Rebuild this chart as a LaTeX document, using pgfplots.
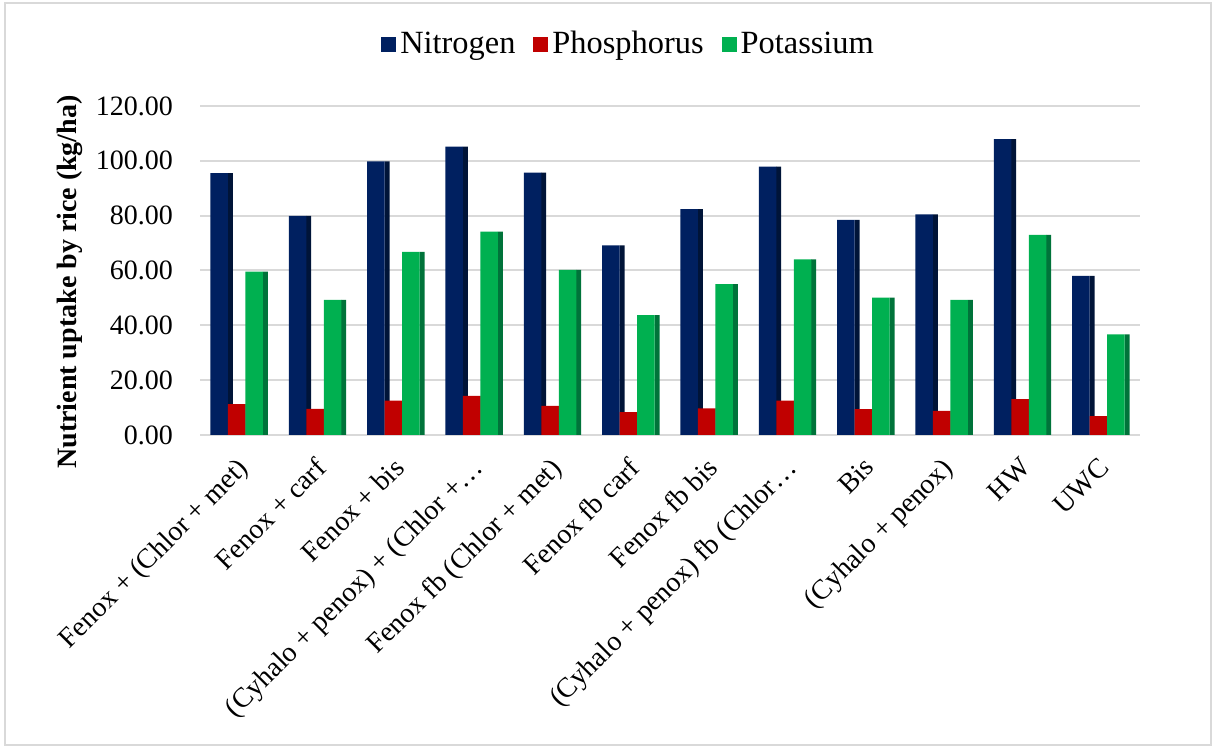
\documentclass[border=0pt]{standalone}
\usepackage{fontspec}
\setmainfont{Liberation Serif}
\usepackage{pgfplots}
\pgfplotsset{compat=1.18}
\definecolor{cN}{HTML}{002060}
\definecolor{cP}{HTML}{C00000}
\definecolor{cK}{HTML}{00B050}
\definecolor{sN}{HTML}{001438}
\definecolor{sP}{HTML}{850000}
\definecolor{sK}{HTML}{00733A}
\definecolor{gridc}{HTML}{D9D9D9}
\newcommand{\cf}{\fontsize{14}{16}\selectfont}
\newcommand{\lf}{\fontsize{16.2}{18}\selectfont}
\begin{document}
\begin{tikzpicture}
\path[use as bounding box] (0,0) rectangle (608pt,374pt);
\draw[gridc, line width=0.8pt] (2.5pt,1.5pt) rectangle (605.5pt,372.5pt);
\begin{axis}[
  at={(100pt,156.5pt)}, anchor=south west,
  scale only axis, width=470pt, height=164.5pt,
  xmin=-0.5, xmax=11.5, ymin=0, ymax=120,
  ytick={0,20,40,60,80,100,120},
  xtick={0,...,11},
  xticklabels={Fenox + (Chlor + met), Fenox + carf, Fenox + bis, (Cyhalo + penox) + (Chlor +…, Fenox fb (Chlor + met), Fenox fb carf, Fenox fb bis, (Cyhalo + penox) fb (Chlor…, Bis, (Cyhalo + penox), HW, UWC},
  xticklabel style={rotate=45, anchor=north east, inner sep=0pt, xshift=-8.5pt, yshift=-6pt, font=\cf},
  yticklabel style={font=\cf, xshift=-10pt},
  yticklabel={\pgfmathprintnumber[fixed, fixed zerofill, precision=2]{\tick}},
  /pgf/number format/assume math mode=true,
  major tick length=0pt,
  axis line style={draw=none},
  ymajorgrids, grid style={gridc, line width=1pt},
  ylabel={\bfseries Nutrient uptake by rice (kg/ha)},
  ylabel style={font=\cf, at={(axis description cs:-0.138,0.465)}, anchor=center},
  ybar, bar width=8.75pt,
  legend style={at={(0.457,1.188)}, anchor=center, draw=none, fill=none, font=\lf, legend columns=-1,
    /tikz/every even column/.append style={column sep=7pt}},
  legend image code/.code={\fill[#1] (0pt,-3.75pt) rectangle (7.5pt,3.75pt);},
]
% side faces
\addplot[fill=sN, draw=none, bar width=2.5pt, bar shift=-4.4pt, forget plot] coordinates {(0,95.5) (1,79.9) (2,99.8) (3,105.2) (4,95.7) (5,69.2) (6,82.4) (7,97.9) (8,78.5) (9,80.5) (10,107.9) (11,58.0)};
\addplot[fill=sP, draw=none, bar width=2.5pt, bar shift=4.4pt, forget plot] coordinates {(0,11.3) (1,9.5) (2,12.5) (3,14.3) (4,10.6) (5,8.3) (6,9.7) (7,12.5) (8,9.4) (9,8.8) (10,13.1) (11,6.9)};
\addplot[fill=sK, draw=none, bar width=2.5pt, bar shift=13.1pt, forget plot] coordinates {(0,59.6) (1,49.3) (2,66.8) (3,74.2) (4,60.2) (5,43.7) (6,55.0) (7,64.1) (8,50.1) (9,49.3) (10,73.0) (11,36.7)};
% front faces
\addplot[fill=cN, draw=none, bar shift=-10pt] coordinates {(0,95.5) (1,79.9) (2,99.8) (3,105.2) (4,95.7) (5,69.2) (6,82.4) (7,97.9) (8,78.5) (9,80.5) (10,107.9) (11,58.0)};
\addplot[fill=cP, draw=none, bar shift=-1.25pt] coordinates {(0,11.3) (1,9.5) (2,12.5) (3,14.3) (4,10.6) (5,8.3) (6,9.7) (7,12.5) (8,9.4) (9,8.8) (10,13.1) (11,6.9)};
\addplot[fill=cK, draw=none, bar shift=7.5pt] coordinates {(0,59.6) (1,49.3) (2,66.8) (3,74.2) (4,60.2) (5,43.7) (6,55.0) (7,64.1) (8,50.1) (9,49.3) (10,73.0) (11,36.7)};
\legend{Nitrogen, Phosphorus, Potassium}
\end{axis}
\end{tikzpicture}
\end{document}
